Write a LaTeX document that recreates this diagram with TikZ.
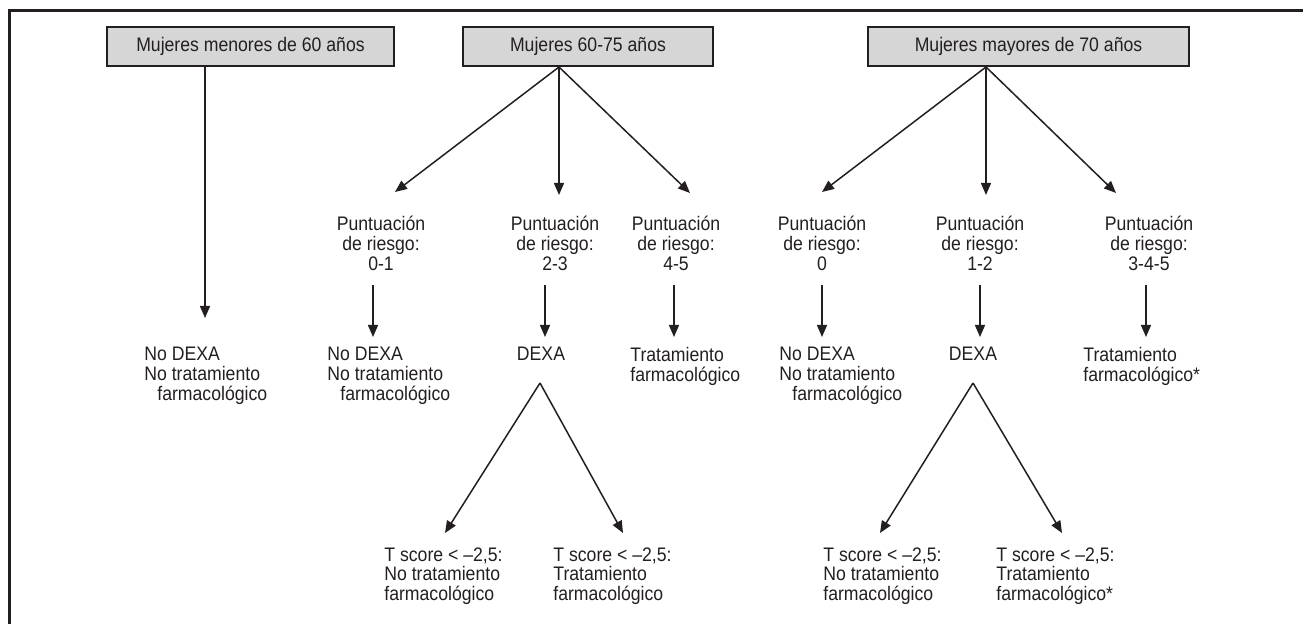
\documentclass[tikz,border=0pt]{standalone}
\usepackage{fontspec}
\setmainfont[FakeStretch=0.9]{Liberation Sans}
\usetikzlibrary{arrows.meta}
\definecolor{ink}{HTML}{231F20}
\definecolor{boxgray}{HTML}{D6D6D6}
\tikzset{
  head/.style={draw=ink, line width=0.75pt, fill=boxgray, inner sep=0pt, minimum height=19.5pt, text=ink},
  lbl/.style={inner sep=0pt, align=center, anchor=north, text=ink},
  res/.style={inner sep=0pt, align=left, anchor=north west, text=ink},
  conn/.style={draw=ink, line width=0.75pt, -{Triangle[length=6pt,width=5pt]}},
  frame/.style={draw=ink, line width=1.5pt}
}
\begin{document}
\begin{tikzpicture}[x=0.5pt, y=-0.5pt, font=\fontsize{9.8}{9.8}\selectfont]
\useasboundingbox (0,0) rectangle (1303,624);
\draw[frame] (9.5,624) -- (9.5,10.5) -- (1303,10.5);

% headers
\node[head, minimum width=143.5pt] (h1) at (250.5,46.5) {Mujeres menores de 60 años};
\node[head, minimum width=125pt] (h2) at (588,46.5) {Mujeres 60-75 años};
\node[head, minimum width=160.5pt] (h3) at (1028.5,46.5) {Mujeres mayores de 70 años};

% apex points
\coordinate (a1) at (205,66);
\coordinate (a2) at (559,67);
\coordinate (a3) at (986,67);

% score labels
\node[lbl] (s01) at (381,216) {Puntuación\\de riesgo:\\0-1};
\node[lbl] (s23) at (555,216) {Puntuación\\de riesgo:\\2-3};
\node[lbl] (s45) at (676,216) {Puntuación\\de riesgo:\\4-5};
\node[lbl] (s0) at (822,216) {Puntuación\\de riesgo:\\0};
\node[lbl] (s12) at (980,216) {Puntuación\\de riesgo:\\1-2};
\node[lbl] (s345) at (1149,216) {Puntuación\\de riesgo:\\3-4-5};

% arrow tip coordinates for header fans
\coordinate (t01) at (395,192);
\coordinate (t23) at (559,195);
\coordinate (t45) at (690,193);
\coordinate (t0) at (822,192);
\coordinate (t12) at (986,195);
\coordinate (t345) at (1116,193);

\draw[conn] (a2) -- (t01);
\draw[conn] (a2) -- (t23);
\draw[conn] (a2) -- (t45);
\draw[conn] (a3) -- (t0);
\draw[conn] (a3) -- (t12);
\draw[conn] (a3) -- (t345);

% results
\node[res] (r1) at (144,347) {No DEXA\\No tratamiento\\\hspace*{6.5pt}farmacológico};
\node[res] (r01) at (327,347) {No DEXA\\No tratamiento\\\hspace*{6.5pt}farmacológico};
\node[lbl] (d23) at (541,347) {DEXA};
\node[res] (r45) at (630,347) {Tratamiento\\farmacológico};
\node[res] (r0) at (779,347) {No DEXA\\No tratamiento\\\hspace*{6.5pt}farmacológico};
\node[lbl] (d12) at (973,347) {DEXA};
\node[res] (r345) at (1083,347) {Tratamiento\\farmacológico*};

% vertical arrows
\coordinate (e1) at (205,318);
\coordinate (b01) at (373,285);  \coordinate (c01) at (373,337);
\coordinate (b23) at (545,285);  \coordinate (c23) at (545,337);
\coordinate (b45) at (674,285);  \coordinate (c45) at (674,337);
\coordinate (b0) at (822,285);   \coordinate (c0) at (822,337);
\coordinate (b12) at (980,285);  \coordinate (c12) at (980,337);
\coordinate (b345) at (1146,285); \coordinate (c345) at (1146,337);
\draw[conn] (a1) -- (e1);
\draw[conn] (b01) -- (c01);
\draw[conn] (b23) -- (c23);
\draw[conn] (b45) -- (c45);
\draw[conn] (b0) -- (c0);
\draw[conn] (b12) -- (c12);
\draw[conn] (b345) -- (c345);

% DEXA splits
\coordinate (x23) at (540,383);
\coordinate (x12) at (973,383);
\coordinate (ta) at (445,533);
\coordinate (tb) at (623,533);
\coordinate (tc) at (880,533);
\coordinate (td) at (1062,533);
\draw[conn] (x23) -- (ta);
\draw[conn] (x23) -- (tb);
\draw[conn] (x12) -- (tc);
\draw[conn] (x12) -- (td);

% T score results
\node[res] (ts1) at (384,547) {T score < –2,5:\\No tratamiento\\farmacológico};
\node[res] (ts2) at (553,547) {T score < –2,5:\\Tratamiento\\farmacológico};
\node[res] (ts3) at (823,547) {T score < –2,5:\\No tratamiento\\farmacológico};
\node[res] (ts4) at (996,547) {T score < –2,5:\\Tratamiento\\farmacológico*};
\end{tikzpicture}
\end{document}
